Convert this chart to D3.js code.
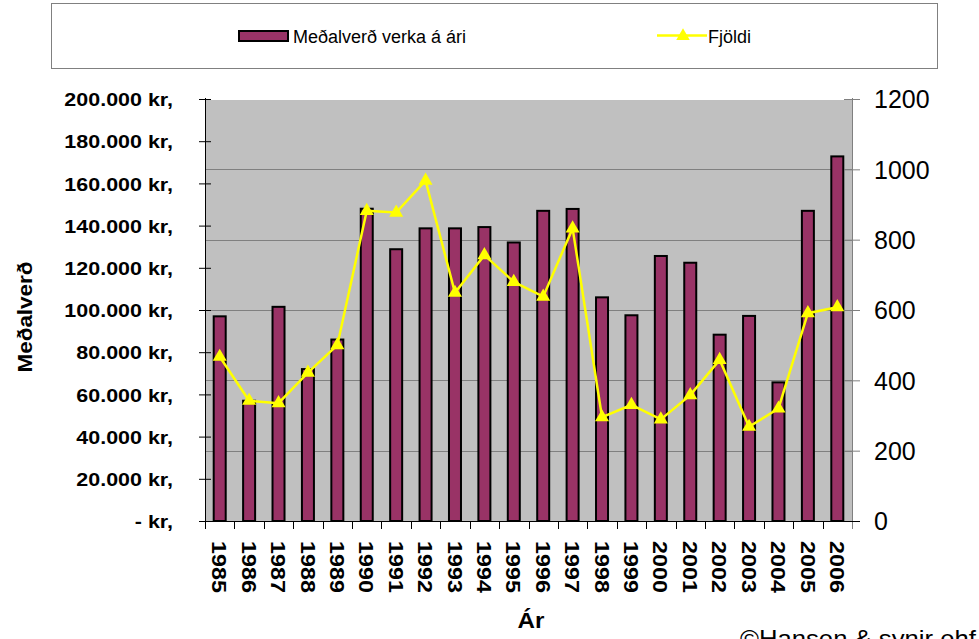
<!DOCTYPE html>
<html>
<head>
<meta charset="utf-8">
<script src="https://cdn.jsdelivr.net/npm/d3@7"></script>
<style>
  body { margin: 0; background: #fff; }
  svg text { font-family: "Liberation Sans", Arial, sans-serif; fill: #000; }
</style>
</head>
<body>
<div id="chart"></div>
<script>
const years = ["1985","1986","1987","1988","1989","1990","1991","1992","1993","1994","1995",
  "1996","1997","1998","1999","2000","2001","2002","2003","2004","2005","2006"];
const avgPrice = [97000, 57000, 101500, 72000, 86000, 148000, 128800, 138700, 138700, 139300, 132000,
  147000, 147900, 106000, 97500, 125600, 122400, 88300, 97200, 65700, 147000, 172800];
const counts = [467, 342, 335, 422, 500, 882, 877, 968, 649, 756, 680,
  638, 832, 295, 330, 289, 358, 458, 268, 320, 591, 608];
const leftTicks = [0, 20000, 40000, 60000, 80000, 100000, 120000, 140000, 160000, 180000, 200000];
const rightTicks = [0, 200, 400, 600, 800, 1000, 1200];

const W = 979, H = 639;
const margin = { top: 99, right: 127, bottom: 118, left: 205 };
const width = W - margin.left - margin.right;
const height = H - margin.top - margin.bottom;

// widen glyphs a little, the source font runs wider than Arial
function stretch(sel, k) {
  sel.each(function () {
    const len = this.getComputedTextLength();
    d3.select(this).attr("textLength", len * k).attr("lengthAdjust", "spacingAndGlyphs");
  });
}

const svg = d3.select("#chart").append("svg")
  .attr("width", W).attr("height", H);

// legend
const legend = svg.append("g");
legend.append("rect").attr("x", 51.5).attr("y", 3.5).attr("width", 886).attr("height", 65)
  .attr("fill", "#fff").attr("stroke", "#808080");
legend.append("rect").attr("x", 239).attr("y", 31).attr("width", 49).attr("height", 10)
  .attr("fill", "#993366").attr("stroke", "#000").attr("stroke-width", 2);
legend.append("text").attr("x", 293).attr("y", 43).attr("font-size", 18).text("Meðalverð verka á ári");
legend.append("line").attr("x1", 657).attr("x2", 707).attr("y1", 35.5).attr("y2", 35.5)
  .attr("stroke", "#ffff00").attr("stroke-width", 2.5);
legend.append("path").attr("d", d3.symbol(d3.symbolTriangle, 80)())
  .attr("transform", "translate(683,36)").attr("fill", "#ffff00");
legend.append("text").attr("x", 708).attr("y", 43).attr("font-size", 18).text("Fjöldi");

const g = svg.append("g").attr("transform", `translate(${margin.left},${margin.top})`);

const x = d3.scaleBand().domain(years).range([0, width]);
const yL = d3.scaleLinear().domain([0, 200000]).range([height, 0]);
const yR = d3.scaleLinear().domain([0, 1200]).range([height, 0]);

// plot area
g.append("rect").attr("x", 1).attr("y", 1).attr("width", width - 1).attr("height", height - 1)
  .attr("fill", "#c0c0c0");

// gridlines at right axis ticks
g.selectAll(".grid").data(rightTicks.filter(d => d > 0 && d < 1200)).join("line")
  .attr("x1", 1).attr("x2", width)
  .attr("y1", d => Math.round(yR(d)) + 0.5).attr("y2", d => Math.round(yR(d)) + 0.5)
  .attr("stroke", "#808080").attr("stroke-width", 1.2);

// bars
const bw = 12;
g.selectAll(".bar").data(avgPrice).join("rect")
  .attr("x", (d, i) => x(years[i]) + x.bandwidth() / 2 - bw / 2)
  .attr("y", d => yL(d))
  .attr("width", bw)
  .attr("height", d => height - yL(d))
  .attr("fill", "#993366").attr("stroke", "#000").attr("stroke-width", 2);

// line
const line = d3.line().x((d, i) => x(years[i]) + x.bandwidth() / 2).y(d => yR(d));
g.append("path").datum(counts).attr("d", line)
  .attr("fill", "none").attr("stroke", "#ffff00").attr("stroke-width", 2.5);
g.selectAll(".mk").data(counts).join("path")
  .attr("d", d3.symbol(d3.symbolTriangle, 85)())
  .attr("transform", (d, i) => `translate(${x(years[i]) + x.bandwidth() / 2},${yR(d)})`)
  .attr("fill", "#ffff00");

// left axis
const fmt = d => d === 0 ? "- kr," : d3.format(",")(d).replace(/,/g, ".") + " kr,";
const axL = g.append("g")
  .call(d3.axisLeft(yL).tickValues(leftTicks).tickFormat(fmt).tickSizeInner(6).tickSizeOuter(0).tickPadding(26));
axL.select(".domain").attr("stroke", "#000").attr("d", `M0.5,-1V${height + 8}`);
axL.selectAll(".tick line").attr("x1", -6).attr("x2", 6).attr("stroke", "#000");
axL.selectAll("text").attr("font-size", 19).attr("font-weight", "bold")
  .attr("font-family", "'Liberation Sans', Arial, sans-serif").attr("dy", "0.35em")
  .call(stretch, 1.13);

// right axis
const axR = g.append("g").attr("transform", `translate(${width},0)`)
  .call(d3.axisRight(yR).tickValues(rightTicks).tickFormat(d3.format("d"))
    .tickSizeOuter(0).tickSizeInner(8).tickPadding(14));
axR.select(".domain").attr("stroke", "#808080").attr("d", `M0.5,-1V${height + 8}`);
axR.selectAll(".tick line").attr("x1", -8).attr("x2", 8).attr("stroke", "#808080");
axR.selectAll("text").attr("font-size", 25).attr("dy", "0.35em")
  .attr("font-family", "'Liberation Sans', Arial, sans-serif");

// bottom axis
const axB = g.append("g").attr("transform", `translate(0,${height})`);
axB.append("line").attr("x1", -6).attr("x2", width + 8).attr("y1", 0.5).attr("y2", 0.5).attr("stroke", "#000");
axB.selectAll(".bt").data(years.slice(1)).join("line")
  .attr("x1", d => Math.round(x(d)) + 0.5).attr("x2", d => Math.round(x(d)) + 0.5)
  .attr("y1", 0).attr("y2", 8).attr("stroke", "#000");
axB.selectAll(".yl").data(years).join("text")
  .attr("transform", d => `translate(${x(d) + x.bandwidth() / 2},20) rotate(90)`)
  .attr("dy", "0.35em")
  .attr("font-size", 21).attr("font-weight", "bold")
  .text(d => d)
  .call(stretch, 1.11);

// axis titles
svg.append("text").attr("x", 531).attr("y", 628).attr("text-anchor", "middle")
  .attr("font-size", 22).attr("font-weight", "bold").text("Ár").call(stretch, 1.1);
svg.append("text").attr("transform", "translate(32,317) rotate(-90)").attr("text-anchor", "middle")
  .attr("font-size", 21).attr("font-weight", "bold").text("Meðalverð").call(stretch, 1.07);
svg.append("text").attr("x", 740).attr("y", 647).attr("font-size", 24)
  .attr("font-family", "'Open Sans', sans-serif").text("©Hansen & synir ehf").call(stretch, 1.07);
</script>
</body>
</html>
